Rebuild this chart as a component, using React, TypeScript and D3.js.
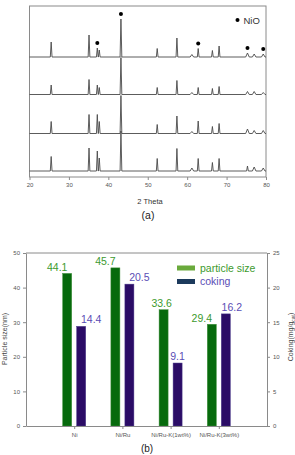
import React, { useEffect, useRef } from 'react';
import * as d3 from 'd3';

// XRD (a): peak positions (2 theta) and peak heights (a.u.) per sample, top to bottom
const peakPos = [25.5, 35.1, 37.2, 37.7, 43.2, 52.4, 57.4, 61.2, 62.8, 66.4, 68.1, 75.3, 77.0, 79.3];
const trace1 = [15, 22, 9, 7, 38, 8.5, 19, 2.5, 8.5, 6.5, 11, 4, 3, 3];
const trace2 = [9.5, 15, 9.5, 7, 37, 7, 14, 2, 7, 6, 8, 3, 3, 2];
const trace3 = [12, 19, 19, 12, 38, 9, 17.5, 2, 12.5, 7, 10, 4.5, 3, 3];
const trace4 = [14.5, 23, 20, 13, 40, 12.5, 22.5, 3, 12.5, 8.5, 12.5, 5, 4, 3];
const traceOffset = [120, 82.5, 43.5, 6];
const nioPeaks = [37.2, 43.2, 62.8, 75.3, 79.3];
const xTicks = [20, 30, 40, 50, 60, 70, 80];

// (b) bar chart
const categories = ['Ni', 'Ni/Ru', 'Ni/Ru-K(1wt%)', 'Ni/Ru-K(3wt%)'];
const particleSize = [44.1, 45.7, 33.6, 29.4];
const coking = [14.4, 20.5, 9.1, 16.2];

const FONT = '"Liberation Sans", Arial, sans-serif';

function XrdChart() {
  const ref = useRef<SVGGElement>(null);
  useEffect(() => {
    const g = d3.select(ref.current);
    g.selectAll('*').remove();
    const left = 29.5, right = 266, top = 6, bottom = 177;
    const x = d3.scaleLinear().domain([20, 80]).range([left, right]);
    const y = d3.scaleLinear().domain([0, 171]).range([bottom, top]);

    g.append('rect')
      .attr('x', left).attr('y', top)
      .attr('width', right - left).attr('height', bottom - top)
      .attr('fill', 'none').attr('stroke', '#8a8a8a').attr('stroke-width', 1);

    const traces = [trace1, trace2, trace3, trace4];
    const line = d3.line<[number, number]>()
      .x(d => x(d[0]))
      .y(d => y(d[1]));

    traces.forEach((heights, i) => {
      const off = traceOffset[i];
      const pts: [number, number][] = [[20, off]];
      peakPos.forEach((p, k) => {
        const w = heights[k] < 5 ? 0.45 : 0.22;
        pts.push([p - w, off], [p, off + heights[k]], [p + w, off]);
      });
      pts.push([80, off]);
      g.append('path')
        .attr('d', line(pts))
        .attr('fill', 'none')
        .attr('stroke', '#4a4a4a')
        .attr('stroke-width', 0.9)
        .attr('stroke-linejoin', 'round');
    });

    // NiO markers above top trace
    g.selectAll('circle.nio')
      .data(nioPeaks)
      .enter()
      .append('circle')
      .attr('class', 'nio')
      .attr('cx', d => x(d))
      .attr('cy', d => y(traceOffset[0] + trace1[peakPos.indexOf(d)]) - 5)
      .attr('r', 2)
      .attr('fill', '#000');

    // legend
    g.append('circle').attr('cx', 237.5).attr('cy', 20).attr('r', 2).attr('fill', '#000');
    g.append('text').attr('x', 243.5).attr('y', 23.5)
      .attr('font-family', FONT).attr('font-size', 9.5).attr('fill', '#333').text('NiO');

    const xAxis = d3.axisBottom(x).tickValues(xTicks).tickSize(3).tickPadding(3).tickFormat(d3.format('d'));
    const ax = g.append('g').attr('transform', `translate(0,${bottom})`).call(xAxis);
    ax.select('.domain').remove();
    ax.selectAll('line').attr('stroke', '#8a8a8a');
    ax.selectAll('text').attr('font-family', FONT).attr('font-size', 6).attr('fill', '#555');

    g.append('text').attr('x', 150).attr('y', 204).attr('text-anchor', 'middle')
      .attr('font-family', FONT).attr('font-size', 7.5).attr('fill', '#333').text('2 Theta');
    g.append('text').attr('x', 148).attr('y', 219).attr('text-anchor', 'middle')
      .attr('font-family', FONT).attr('font-size', 10.5).attr('fill', '#222').text('(a)');
  }, []);
  return <g ref={ref} />;
}

function BarChart() {
  const ref = useRef<SVGGElement>(null);
  useEffect(() => {
    const g = d3.select(ref.current);
    g.selectAll('*').remove();
    const left = 26, right = 267, top = 253, bottom = 426;
    const x = d3.scalePoint<string>().domain(categories).range([left, right]).padding(1);
    const yL = d3.scaleLinear().domain([0, 50]).range([bottom, top]);
    const yR = d3.scaleLinear().domain([0, 25]).range([bottom, top]);
    const barW = 9, gap = 7;

    // frame top line
    g.append('line').attr('x1', left).attr('x2', right).attr('y1', top).attr('y2', top)
      .attr('stroke', '#8a8a8a');

    g.selectAll('rect.ps')
      .data(particleSize)
      .enter()
      .append('rect')
      .attr('class', 'ps')
      .attr('x', (d, i) => (x(categories[i]) as number) - gap - barW / 2)
      .attr('y', d => yL(d))
      .attr('width', barW)
      .attr('height', d => bottom - yL(d))
      .attr('fill', '#066a0c')
      .attr('stroke', '#3f8f3a').attr('stroke-width', 0.5);

    g.selectAll('rect.ck')
      .data(coking)
      .enter()
      .append('rect')
      .attr('class', 'ck')
      .attr('x', (d, i) => (x(categories[i]) as number) + gap - barW / 2)
      .attr('y', d => yR(d))
      .attr('width', barW)
      .attr('height', d => bottom - yR(d))
      .attr('fill', '#2b0c66')
      .attr('stroke', '#4a3a8a').attr('stroke-width', 0.5);

    // value labels (hand-placed shifts as in the original)
    const psShift = [-10, -10, -2, -10];
    const ckShift = [10, 10, 0, 6];
    g.selectAll('text.psl')
      .data(particleSize)
      .enter()
      .append('text')
      .attr('class', 'psl')
      .attr('x', (d, i) => (x(categories[i]) as number) - gap + psShift[i])
      .attr('y', d => yL(d) - 2.5)
      .attr('text-anchor', 'middle')
      .attr('font-family', FONT).attr('font-size', 10.5).attr('fill', '#3d9a2e')
      .text(d => d.toFixed(1));
    g.selectAll('text.ckl')
      .data(coking)
      .enter()
      .append('text')
      .attr('class', 'ckl')
      .attr('x', (d, i) => (x(categories[i]) as number) + gap + ckShift[i])
      .attr('y', d => yR(d) - 3)
      .attr('text-anchor', 'middle')
      .attr('font-family', FONT).attr('font-size', 10.5).attr('fill', '#5a4db5')
      .text(d => d.toFixed(1));

    const styleAxis = (a: d3.Selection<SVGGElement, unknown, null, undefined>) => {
      a.select('.domain').attr('stroke', '#8a8a8a');
      a.selectAll('line').attr('stroke', '#8a8a8a');
      a.selectAll('text').attr('font-family', FONT).attr('font-size', 6).attr('fill', '#555');
    };

    const axL = g.append('g').attr('transform', `translate(${left},0)`)
      .call(d3.axisLeft(yL).tickValues([0, 10, 20, 30, 40, 50]).tickSize(3).tickPadding(3).tickSizeOuter(0));
    styleAxis(axL as any);
    const axR = g.append('g').attr('transform', `translate(${right},0)`)
      .call(d3.axisRight(yR).tickValues([0, 5, 10, 15, 20, 25]).tickSize(3).tickPadding(3).tickSizeOuter(0));
    styleAxis(axR as any);
    const axB = g.append('g').attr('transform', `translate(0,${bottom})`)
      .call(d3.axisBottom(x).tickSize(3).tickPadding(4).tickSizeOuter(0));
    styleAxis(axB as any);

    // axis titles
    g.append('text').attr('transform', `translate(7,339) rotate(-90)`).attr('text-anchor', 'middle')
      .attr('font-family', FONT).attr('font-size', 7).attr('fill', '#444').text('Particle size(nm)');
    const rt = g.append('text').attr('transform', `translate(293,337) rotate(-90)`).attr('text-anchor', 'middle')
      .attr('font-family', FONT).attr('font-size', 7).attr('fill', '#444');
    rt.append('tspan').text('Coking(mg/g');
    rt.append('tspan').attr('font-size', 5).attr('dy', 1.5).text('cat');
    rt.append('tspan').attr('dy', -1.5).text(')');

    // legend
    g.append('rect').attr('x', 177).attr('y', 265.5).attr('width', 18).attr('height', 5).attr('fill', '#6aaa3c');
    g.append('text').attr('x', 200).attr('y', 271.5)
      .attr('font-family', FONT).attr('font-size', 10.5).attr('fill', '#3d9a2e').text('particle  size');
    g.append('rect').attr('x', 177).attr('y', 279).attr('width', 18).attr('height', 5).attr('fill', '#1c3a5c');
    g.append('text').attr('x', 200).attr('y', 285)
      .attr('font-family', FONT).attr('font-size', 10.5).attr('fill', '#5a4db5').text('coking');

    g.append('text').attr('x', 147).attr('y', 451.5).attr('text-anchor', 'middle')
      .attr('font-family', FONT).attr('font-size', 10).attr('fill', '#222').text('(b)');
  }, []);
  return <g ref={ref} />;
}

export default function App() {
  return (
    <svg width={295} height={455} style={{ position: 'absolute', left: 0, top: 0, background: '#fff' }}>
      <rect width={295} height={455} fill="#fff" />
      <XrdChart />
      <BarChart />
    </svg>
  );
}
